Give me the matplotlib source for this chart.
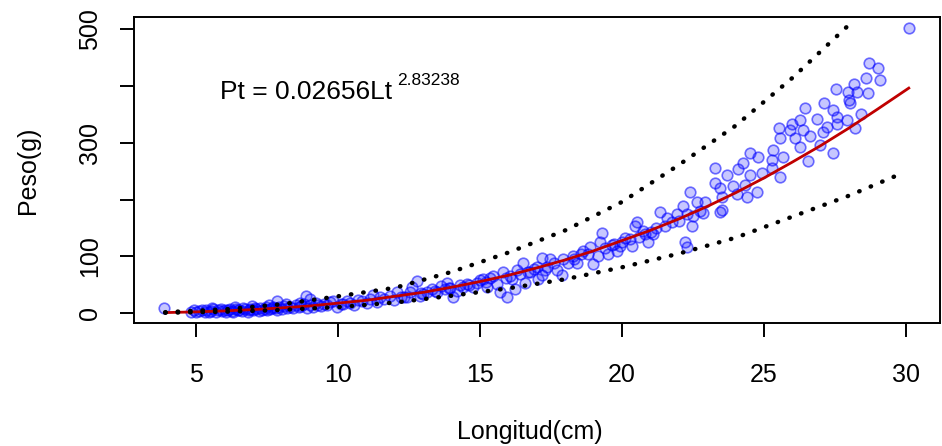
import matplotlib
matplotlib.use("Agg")
import matplotlib.pyplot as plt
import numpy as np

plt.rcParams['font.family'] = ['Liberation Sans', 'DejaVu Sans']

len_a = [3.84, 4.8, 4.9, 5.0, 5.1, 5.2, 5.3, 5.35, 5.45, 5.5, 5.6, 5.7, 5.75, 5.85, 5.9,
         6.0, 6.05, 6.1, 6.2, 6.25, 6.3, 6.4, 6.45, 6.5, 6.6, 6.65, 6.7, 6.8, 6.85, 6.9,
         7.0, 7.05, 7.1, 7.2, 7.25, 7.3, 7.4, 7.45, 7.5, 7.6, 7.65, 7.7, 7.8, 7.85, 7.9,
         8.0, 8.1, 8.2, 8.3, 8.4, 8.5, 8.6, 8.7, 8.8, 8.9, 9.0, 9.1, 9.2, 9.3, 9.4, 9.5,
         9.6, 9.7, 7.85, 8.87, 9.0, 5.55, 6.35, 6.95, 7.55, 8.15, 8.65]
peso_a = [9, 3, 5, 2, 4, 6, 3, 5, 2, 4, 7, 3, 5, 8, 4,
          6, 2, 5, 7, 4, 3, 8, 6, 5, 4, 9, 7, 3, 6, 8,
          5, 10, 7, 4, 9, 6, 8, 11, 5, 7, 10, 12, 9, 6, 11,
          8, 13, 10, 12, 9, 15, 11, 13, 16, 10, 14, 12, 18, 15, 13, 17,
          14, 20, 21, 30, 25, 9, 11, 13, 14, 17, 19]

len_b = [9.82, 9.96, 10.1, 10.18, 10.3, 10.42, 10.55, 10.7, 10.85, 11.0,
         11.13, 11.23, 11.35, 11.48, 11.6, 11.83, 11.95, 12.08, 12.2, 12.43,
         12.54, 12.61, 12.78, 12.89, 13.0]
peso_b = [21, 12, 17, 16, 22, 19, 14, 24, 21, 18,
          25, 33, 20, 28, 26, 30, 24, 37, 28, 28,
          37, 47, 56, 30, 34]

len_c = [13.13, 13.3, 13.49, 13.6, 13.77, 13.84, 13.95, 14.05, 14.19, 14.3,
         14.40, 14.55, 14.75, 14.89, 15.0, 15.11, 15.25, 15.35, 15.46, 15.60,
         15.70, 15.81, 15.95, 16.05, 16.13, 16.23, 16.30, 16.4, 16.51, 16.58,
         16.76, 16.9, 17.0, 17.04, 17.18, 17.18, 17.29, 17.36, 17.46]
peso_c = [37, 42, 37, 48, 42, 54, 45, 28, 39, 50,
          47, 52, 46, 54, 58, 60, 46, 62, 65, 51,
          37, 72, 28, 66, 60, 42, 77, 70, 89, 54,
          72, 78, 82, 60, 68, 98, 77, 82, 95]

len_d = [17.71, 17.89, 17.92, 18.1, 18.27, 18.42, 18.55, 18.63, 18.87, 18.98,
         19.15, 19.23, 19.30, 19.51, 19.65, 19.82, 19.93, 20.1, 20.28, 20.35,
         20.46, 20.53, 20.74, 20.92, 21.09, 21.2, 21.34, 21.58, 21.76, 21.94,
         22.15, 22.22, 22.29, 22.29, 22.39, 22.46, 22.64, 22.75, 22.85, 22.92]
peso_d = [77, 68, 95, 88, 100, 89, 105, 109, 116, 86,
          100, 125, 142, 104, 120, 109, 118, 132, 130, 118,
          153, 161, 144, 126, 139, 150, 179, 168, 160, 174,
          188, 126, 116, 174, 214, 153, 195, 180, 177, 196]

len_e = [23.27, 23.27, 23.45, 23.45, 23.52, 23.52, 23.70, 23.91, 24.05, 24.08,
         24.26, 24.33, 24.40, 24.51, 24.51, 24.75, 24.79, 24.93, 25.28, 25.28,
         25.32, 25.53, 25.56, 25.56, 25.67, 25.92, 25.99, 26.09, 26.27, 26.27,
         26.37, 26.44, 26.55, 26.62, 26.87, 26.97, 27.08, 27.11, 27.22, 27.43,
         27.43, 27.54, 27.57, 27.57, 27.92, 27.96, 28.0, 28.03, 28.17, 28.20,
         28.27, 28.42, 28.59, 28.66, 28.70, 29.01, 29.08, 30.1]
peso_e = [256, 230, 221, 179, 204, 182, 244, 223, 209, 253,
          265, 226, 204, 282, 244, 214, 275, 247, 270, 256,
          288, 326, 309, 239, 275, 323, 332, 309, 340, 293,
          323, 361, 267, 311, 342, 296, 318, 370, 328, 358,
          282, 395, 346, 332, 340, 389, 375, 370, 404, 326,
          389, 351, 414, 388, 440, 432, 411, 502]

# extra points along the dense band
len_f = [12.3, 12.9, 13.4, 13.9, 14.6, 15.2, 15.9, 16.7, 17.6, 18.3,
         18.8, 19.4, 20.0, 20.6, 21.0, 21.5, 22.0, 22.5, 19.7, 20.8]
peso_f = [29, 35, 40, 44, 50, 55, 62, 72, 88, 96,
          104, 115, 126, 135, 143, 153, 163, 172, 122, 140]

# fitted curve (red) and the two dotted bands
fit_len = [3.9, 5, 6, 7, 8, 9, 10, 11, 12, 13, 14, 15, 16, 17, 18, 19, 20,
           21, 22, 23, 24, 25, 26, 27, 28, 29, 30.1]
fit_peso = [1.3, 2.6, 4.3, 6.6, 9.6, 13, 18, 23, 30, 37, 46, 56, 67, 80, 94, 110,
            128, 146, 166, 188, 212, 238, 266, 295, 326, 359, 396]

up_len = [3.9, 6, 8, 10, 12, 14, 16, 18, 20, 22, 24, 26, 28.03]
up_peso = [2, 7, 16, 30, 45, 73, 107, 146, 196, 261, 330, 414, 509]

low_len = [3.9, 6, 8, 10, 12, 14, 16, 18, 20, 22, 24, 26, 28, 29.9]
low_peso = [1, 2.8, 6, 11, 19, 31, 44, 60, 81, 105, 133, 170, 207, 247]

longitud = np.array(len_a + len_b + len_c + len_d + len_e + len_f)
peso = np.array(peso_a + peso_b + peso_c + peso_d + peso_e + peso_f)

fig = plt.figure(figsize=(9.42, 4.46), dpi=100)
ax = fig.add_axes([134 / 942, 1 - 323 / 446, 806 / 942, 306 / 446])

ax.scatter(longitud, peso, s=58, facecolor=(0, 0, 1, 0.22),
           edgecolor=(0, 0, 1, 0.55), linewidth=1.2, zorder=2)
ax.plot(fit_len, fit_peso, color='#c00000', linewidth=2.0, zorder=3)
for xs, ys in [(up_len, up_peso), (low_len, low_peso)]:
    ax.plot(xs, ys, color='black', linewidth=3.2, linestyle=(0, (0.1, 2.7)),
            dash_capstyle='round', zorder=4)

ax.set_xlim(2.8, 31.2)
ax.set_ylim(-17, 521)
ax.set_xticks([5, 10, 15, 20, 25, 30])
ax.set_yticks([0, 100, 200, 300, 400, 500])
ax.set_yticklabels(['0', '100', '', '300', '', '500'], rotation=90, va='center')

for sp in ax.spines.values():
    sp.set_linewidth(1.4)
ax.tick_params(axis='both', length=10, width=1.4, labelsize=18)
ax.tick_params(axis='x', pad=18.5)
ax.tick_params(axis='y', pad=13)

ax.set_xlabel('Longitud(cm)', fontsize=18)
ax.xaxis.set_label_coords(0.491, -0.356)
ax.xaxis.label.set_va('center')
ax.set_ylabel('Peso(g)', fontsize=18)
ax.yaxis.set_label_coords(-0.1315, 0.5)
ax.yaxis.label.set_va('center')

ax.text(5.83, 389, 'Pt = 0.02656Lt', fontsize=19, va='center', ha='left')
ax.text(12.07, 410, '2.83238', fontsize=12.5, va='center', ha='left')

fig.savefig('out.png', dpi=100)
